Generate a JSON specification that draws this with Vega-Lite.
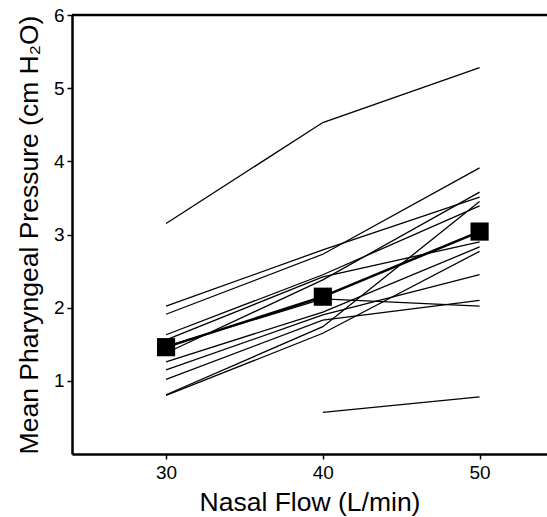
{
  "$schema": "https://vega.github.io/schema/vega-lite/v6.json",
  "autosize": "none",
  "width": 475,
  "height": 439,
  "padding": {"left": 72, "top": 15, "right": 0, "bottom": 63},
  "background": "white",
  "config": {
    "view": {"stroke": null},
    "font": "Liberation Sans",
    "axis": {"grid": false, "domainColor": "black", "domainWidth": 2.5, "tickColor": "black", "tickWidth": 1.5, "tickSize": 5, "labelColor": "black", "titleColor": "black", "labelFontSize": 19, "titleFontSize": 26.5, "titleFontWeight": "normal", "labelFont": "Liberation Sans", "titleFont": "Liberation Sans"}
  },
  "datasets": {
    "subjects": [
      {"subject": 1, "flow": 30, "pressure": 3.15}, {"subject": 1, "flow": 40, "pressure": 4.53}, {"subject": 1, "flow": 50, "pressure": 5.28},
      {"subject": 2, "flow": 30, "pressure": 2.02}, {"subject": 2, "flow": 40, "pressure": 2.79}, {"subject": 2, "flow": 50, "pressure": 3.51},
      {"subject": 3, "flow": 30, "pressure": 1.91}, {"subject": 3, "flow": 40, "pressure": 2.73}, {"subject": 3, "flow": 50, "pressure": 3.91},
      {"subject": 4, "flow": 30, "pressure": 1.63}, {"subject": 4, "flow": 40, "pressure": 2.45}, {"subject": 4, "flow": 50, "pressure": 3.39},
      {"subject": 5, "flow": 30, "pressure": 1.56}, {"subject": 5, "flow": 40, "pressure": 2.42}, {"subject": 5, "flow": 50, "pressure": 2.90},
      {"subject": 6, "flow": 30, "pressure": 1.38}, {"subject": 6, "flow": 40, "pressure": 2.38}, {"subject": 6, "flow": 50, "pressure": 3.58},
      {"subject": 7, "flow": 30, "pressure": 1.47}, {"subject": 7, "flow": 40, "pressure": 2.12}, {"subject": 7, "flow": 50, "pressure": 2.02},
      {"subject": 8, "flow": 30, "pressure": 1.26}, {"subject": 8, "flow": 40, "pressure": 1.94}, {"subject": 8, "flow": 50, "pressure": 2.83},
      {"subject": 9, "flow": 30, "pressure": 1.15}, {"subject": 9, "flow": 40, "pressure": 1.90}, {"subject": 9, "flow": 50, "pressure": 2.45},
      {"subject": 10, "flow": 30, "pressure": 1.02}, {"subject": 10, "flow": 40, "pressure": 1.83}, {"subject": 10, "flow": 50, "pressure": 2.10},
      {"subject": 11, "flow": 30, "pressure": 0.81}, {"subject": 11, "flow": 40, "pressure": 1.74}, {"subject": 11, "flow": 50, "pressure": 3.45},
      {"subject": 12, "flow": 30, "pressure": 0.80}, {"subject": 12, "flow": 40, "pressure": 1.65}, {"subject": 12, "flow": 50, "pressure": 2.77},
      {"subject": 13, "flow": 40, "pressure": 0.57}, {"subject": 13, "flow": 50, "pressure": 0.78}
    ],
    "mean": [
      {"flow": 30, "pressure": 1.46}, {"flow": 40, "pressure": 2.15}, {"flow": 50, "pressure": 3.04}
    ],
    "top": [{"level": 6}]
  },
  "layer": [
    {
      "data": {"name": "subjects"},
      "mark": {"type": "line", "color": "black", "strokeWidth": 1.3},
      "encoding": {
        "x": {"field": "flow", "type": "quantitative", "scale": {"domain": [24, 54.3], "nice": false, "zero": false},
              "axis": {"values": [30, 40, 50], "format": "d", "title": "Nasal Flow (L/min)", "labelPadding": 4, "titlePadding": 7}},
        "y": {"field": "pressure", "type": "quantitative", "scale": {"domain": [0, 6], "nice": false},
              "axis": {"values": [1, 2, 3, 4, 5, 6], "format": "d", "title": "Mean Pharyngeal Pressure (cm H₂O)", "labelPadding": 3, "titlePadding": 10}},
        "detail": {"field": "subject", "type": "nominal"}
      }
    },
    {
      "data": {"name": "mean"},
      "mark": {"type": "line", "color": "black", "strokeWidth": 2.5},
      "encoding": {
        "x": {"field": "flow", "type": "quantitative"},
        "y": {"field": "pressure", "type": "quantitative"}
      }
    },
    {
      "data": {"name": "mean"},
      "mark": {"type": "square", "color": "black", "filled": true, "opacity": 1, "size": 330},
      "encoding": {
        "x": {"field": "flow", "type": "quantitative"},
        "y": {"field": "pressure", "type": "quantitative"}
      }
    },
    {
      "data": {"name": "top"},
      "mark": {"type": "rule", "color": "black", "strokeWidth": 2.5},
      "encoding": {
        "y": {"field": "level", "type": "quantitative"}
      }
    }
  ]
}
